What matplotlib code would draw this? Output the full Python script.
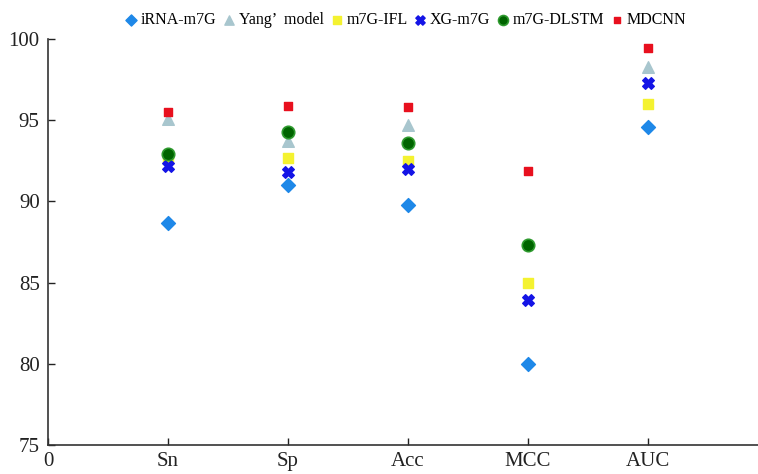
import matplotlib
matplotlib.use("Agg")
import matplotlib.pyplot as plt
import numpy as np

metrics = ["Sn", "Sp", "Acc", "MCC", "AUC"]
irna = [88.7, 91.0, 89.8, 80.0, 94.6]
yang = [95.1, 93.7, 94.7, None, 98.3]
ifl = [92.7, 92.7, 92.5, 85.0, 96.0]
xg = [92.2, 91.8, 92.0, 83.9, 97.3]
dlstm = [92.9, 94.3, 93.6, 87.3, None]
mdcnn = [95.5, 95.9, 95.8, 91.9, 99.45]

series = [
    ("iRNA-m7G", irna, dict(marker="D", color="#1E88E8", s=50, edgecolors="#1E88E8")),
    ("Yang\u2019  model", yang, dict(marker="^", color="#A8C6CE", s=70, edgecolors="#A8C6CE")),
    ("m7G-IFL", ifl, dict(marker="s", color="#F4F230", s=55, edgecolors="#F4F230")),
    ("XG-m7G", xg, dict(marker="X", color="#1414E6", s=70, edgecolors="#1414E6")),
    ("m7G-DLSTM", dlstm, dict(marker="o", color="#006400", s=80, edgecolors="#2E9A2E", linewidths=1.2)),
    ("MDCNN", mdcnn, dict(marker="s", color="#E8101E", s=35, edgecolors="#E8101E")),
]

plt.rcParams["font.family"] = ["Liberation Serif", "DejaVu Serif"]
fig = plt.figure(figsize=(7.58, 4.74), dpi=100)
ax = fig.add_axes([0.0633, 0.0612, 0.9367, 0.8565])

xpos = np.arange(1, len(metrics) + 1)
for name, vals, kw in series:
    xs = [x for x, v in zip(xpos, vals) if v is not None]
    ys = [v for v in vals if v is not None]
    ax.scatter(xs, ys, label=name, zorder=3, **kw)

ax.set_xlim(0, 5.92)
ax.set_ylim(75, 100)
ax.set_xticks([0] + list(xpos))
ax.set_xticklabels(["0"] + metrics)
ax.set_yticks([75, 80, 85, 90, 95, 100])
ax.tick_params(direction="in", labelsize=15, length=5, width=1, colors="#222222")
ax.tick_params(axis="x", pad=5)
ax.tick_params(axis="y", pad=6)
for sp in ["top", "right"]:
    ax.spines[sp].set_visible(False)
for sp in ["left", "bottom"]:
    ax.spines[sp].set_color("#333333")
    ax.spines[sp].set_linewidth(1.2)

fig.legend(loc="upper center", bbox_to_anchor=(0.534, 1.005), ncol=6, frameon=False,
           fontsize=11.5, handletextpad=0.1, columnspacing=0.3, markerscale=0.8,
           handlelength=1.0)
fig.savefig("out.png", dpi=100)
